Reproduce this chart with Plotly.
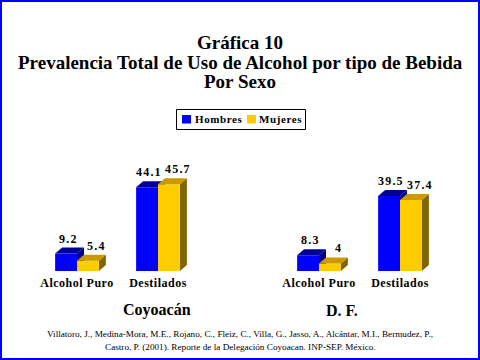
import plotly.graph_objects as go

categories = ["Alcohol Puro", "Destilados"]
groups = ["Coyoacán", "D. F."]
series_names = ["Hombres", "Mujeres"]
hombres = {"Coyoacán": [9.2, 44.1], "D. F.": [8.3, 39.5]}
mujeres = {"Coyoacán": [5.4, 45.7], "D. F.": [4, 37.4]}
value_text = {"Coyoacán": (["9.2", "44.1"], ["5.4", "45.7"]),
              "D. F.": (["8.3", "39.5"], ["4", "37.4"])}
title_lines = ["Gráfica 10", "Prevalencia Total de Uso de Alcohol por tipo de Bebida", "Por Sexo"]
foot = ["Villatoro, J., Medina-Mora, M.E., Rojano, C., Fleiz, C., Villa, G., Jasso, A., Alcántar, M.I., Bermudez, P.,",
        "Castro, P. (2001). Reporte de la Delegación Coyoacan. INP-SEP. México."]

W, H = 480, 360
Y_MAX = 50
PLOT_TOP, PLOT_BOT = 176, 271
PX_PER_UNIT = (PLOT_BOT - PLOT_TOP) / Y_MAX
DX, DY_PX = 7, 6
DY = DY_PX / PX_PER_UNIT
BARGAP = 0.46
HALF = (1 - BARGAP) / 2
CAT_PX = 81
BAR_PX = HALF * CAT_PX

BLUE, BLUE_TOP, BLUE_SIDE = "#0000FF", "#000099", "#000080"
YEL, YEL_TOP, YEL_SIDE = "#FFCC00", "#CC9900", "#806600"
SERIF = "Liberation Serif, Times New Roman, serif"

fig = go.Figure()
x_domains = [[36.5 / W, 198.5 / W], [278.5 / W, 440.5 / W]]
y_domain = [(H - PLOT_BOT) / H, (H - PLOT_TOP) / H]

shapes = []
annotations = []
series_style = [(BLUE, BLUE_TOP, BLUE_SIDE), (YEL, YEL_TOP, YEL_SIDE)]
label_xshift = [2, 9]
for gi, g in enumerate(groups):
    xa = "x" if gi == 0 else "x2"
    ya = "y" if gi == 0 else "y2"
    for si, vals in enumerate([hombres[g], mujeres[g]]):
        col, ctop, cside = series_style[si]
        fig.add_trace(go.Bar(x=categories, y=vals, name=series_names[si],
                             marker=dict(color=col, line=dict(width=0)),
                             xaxis=xa, yaxis=ya, showlegend=False))
        for ci, v in enumerate(vals):
            left = ci - HALF if si == 0 else ci
            right = left + HALF
            shapes.append(dict(type="path", xref=xa, yref=ya, xsizemode="pixel", xanchor=right,
                               path=f"M0,{v} L{DX},{v + DY} L{DX},{DY} L0,0 Z",
                               fillcolor=cside, line=dict(width=0), layer="below"))
            shapes.append(dict(type="path", xref=xa, yref=ya, xsizemode="pixel", xanchor=left,
                               path=f"M0,{v} L{DX},{v + DY} L{DX + BAR_PX},{v + DY} L{BAR_PX},{v} Z",
                               fillcolor=ctop, line=dict(width=0),
                               layer="above" if si == 1 else "below"))
            annotations.append(dict(x=(left + right) / 2, y=v, xref=xa, yref=ya,
                                    text=f"<b><span style='letter-spacing:1.2px'>{value_text[g][si][ci]}</span></b>",
                                    showarrow=False, xshift=label_xshift[si], yshift=15, yanchor="middle",
                                    font=dict(family=SERIF, size=12, color="black")))

axis_common = dict(showgrid=False, zeroline=False, showline=False, ticks="",
                   tickfont=dict(family=SERIF, size=12, color="black"))
fig.update_layout(
    xaxis=dict(domain=x_domains[0], range=[-0.5, 1.5], anchor="y", **axis_common),
    xaxis2=dict(domain=x_domains[1], range=[-0.5, 1.5], anchor="y2", **axis_common),
    yaxis=dict(domain=y_domain, range=[0, Y_MAX], visible=False),
    yaxis2=dict(domain=y_domain, range=[0, Y_MAX], visible=False, anchor="x2"),
)
fig.update_xaxes(tickvals=[0, 1], ticklabelstandoff=3,
                 ticktext=[f"<b><span style='letter-spacing:0.5px'>{c}</span></b>" for c in categories])

for i, t in enumerate(title_lines):
    annotations.append(dict(x=0.5, y=1 - (42 + 20 * i) / H, xref="paper", yref="paper",
                            text=f"<b>{t}</b>", showarrow=False, yanchor="middle",
                            font=dict(family=SERIF, size=19, color="black")))
for gi, g in enumerate(groups):
    annotations.append(dict(x=[121, 360][gi] / W, y=1 - 310 / H, xref="paper", yref="paper",
                            text=f"<b>{g}</b>", showarrow=False, yanchor="middle",
                            font=dict(family=SERIF, size=16, color="black")))
for i, t in enumerate(foot):
    annotations.append(dict(x=0.5, y=1 - (334 + 13 * i) / H, xref="paper", yref="paper",
                            text=t, showarrow=False, yanchor="middle",
                            font=dict(family=SERIF, size=9.2, color="black")))

# legend (box, swatches, labels)
shapes.append(dict(type="rect", xref="paper", yref="paper", x0=176.5 / W, x1=305.5 / W,
                   y0=1 - 129.5 / H, y1=1 - 109.5 / H, line=dict(color="black", width=1),
                   fillcolor="white", layer="above"))
for si, (sx, tx) in enumerate([(182, 193), (247, 257)]):
    shapes.append(dict(type="rect", xref="paper", yref="paper", x0=sx / W, x1=(sx + 9) / W,
                       y0=1 - 123.5 / H, y1=1 - 115 / H, line=dict(width=0),
                       fillcolor=series_style[si][0], layer="above"))
    annotations.append(dict(x=tx / W, y=1 - 119.5 / H, xref="paper", yref="paper",
                            text=f"<b><span style='letter-spacing:0.6px'>{series_names[si]}</span></b>",
                            showarrow=False, xanchor="left", yanchor="middle",
                            font=dict(family=SERIF, size=11, color="black")))

shapes.append(dict(type="rect", xref="paper", yref="paper", x0=1 / W, y0=1 / H, x1=1 - 1 / W, y1=1 - 1 / H,
                   line=dict(color="#0000FF", width=2), fillcolor="rgba(0,0,0,0)", layer="above"))

fig.update_layout(
    width=W, height=H, margin=dict(l=0, r=0, t=0, b=0),
    paper_bgcolor="white", plot_bgcolor="rgba(0,0,0,0)",
    barmode="group", bargap=BARGAP, bargroupgap=0,
    shapes=shapes, annotations=annotations, showlegend=False,
)
fig.write_html("out.html", config={"displayModeBar": False},
               post_script="document.body.style.margin='0';")
